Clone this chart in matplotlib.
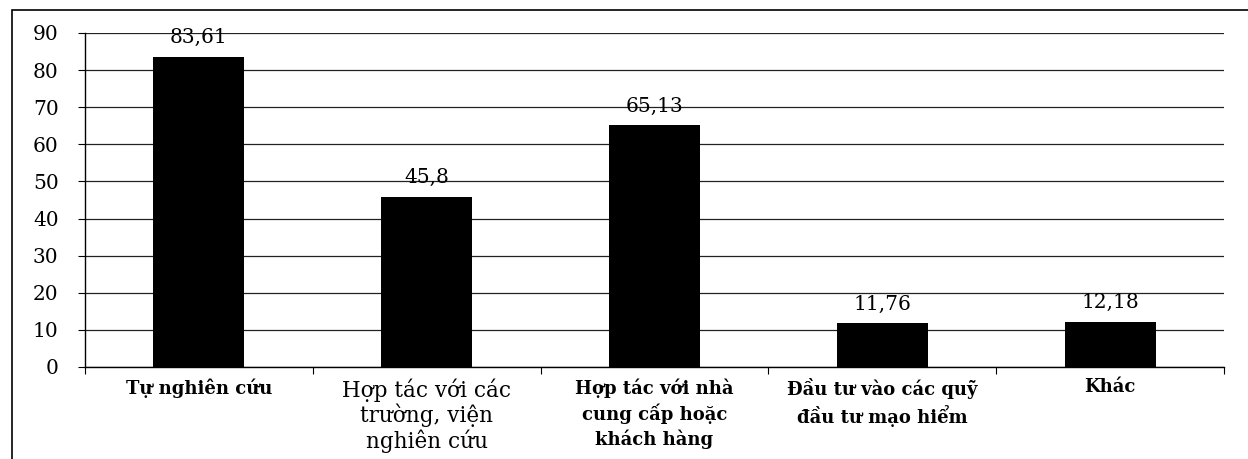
import numpy as np
import matplotlib.pyplot as plt
from matplotlib.patches import Rectangle

categories = ["Tự nghiên cứu",
              "Hợp tác với các\ntrường, viện\nnghiên cứu",
              "Hợp tác với nhà\ncung cấp hoặc\nkhách hàng",
              "Đầu tư vào các quỹ\nđầu tư mạo hiểm",
              "Khác"]
values = [83.61, 45.8, 65.13, 11.76, 12.18]
value_labels = ["83,61", "45,8", "65,13", "11,76", "12,18"]
yticks = [0, 10, 20, 30, 40, 50, 60, 70, 80, 90]

plt.rcParams['font.family'] = ['DejaVu Serif']

fig = plt.figure(figsize=(12.48, 4.59), dpi=100)
ax = fig.add_axes([85/1248, 1-367/459, (1224-85)/1248, (367-33)/459])

x = np.arange(len(categories))
ax.bar(x, values, width=0.4, color='black', zorder=3)

for xi, v, lab in zip(x, values, value_labels):
    ax.text(xi, v + 2.6, lab, ha='center', va='bottom', fontsize=14.5, zorder=4,
            clip_on=False)

ax.set_xlim(-0.5, len(categories) - 0.5)
ax.set_ylim(0, 90)
ax.set_yticks(yticks)
ax.set_yticklabels([str(t) for t in yticks], fontsize=14.5)
ax.yaxis.grid(True, color='#222222', linewidth=0.9, zorder=0)
ax.tick_params(axis='y', length=5, width=0.8, pad=14)

# category boundaries get the tick marks, labels sit in the middle
ax.set_xticks(np.arange(len(categories) + 1) - 0.5)
ax.set_xticklabels([])
ax.tick_params(axis='x', length=5, width=0.8, direction='out')
ax.set_xticks(x, minor=True)
ax.set_xticklabels(categories, minor=True)
ax.tick_params(axis='x', which='minor', length=0, pad=8)
for i, t in enumerate(ax.get_xticklabels(minor=True)):
    if i == 1:
        t.set_fontsize(15.5)
        t.set_linespacing(1.12)
    else:
        t.set_fontsize(13)
        t.set_fontweight('bold')
        t.set_linespacing(1.35)

for s in ['top', 'right']:
    ax.spines[s].set_visible(False)
ax.spines['left'].set_linewidth(1.0)
ax.spines['bottom'].set_linewidth(1.0)

# outer frame of the scanned figure
fig.patches.append(Rectangle((12/1248, -0.01), 1.1, 1 - 10/459 + 0.01,
                             transform=fig.transFigure, fill=False,
                             edgecolor='black', linewidth=1.2))

fig.savefig('out.png', dpi=100)
